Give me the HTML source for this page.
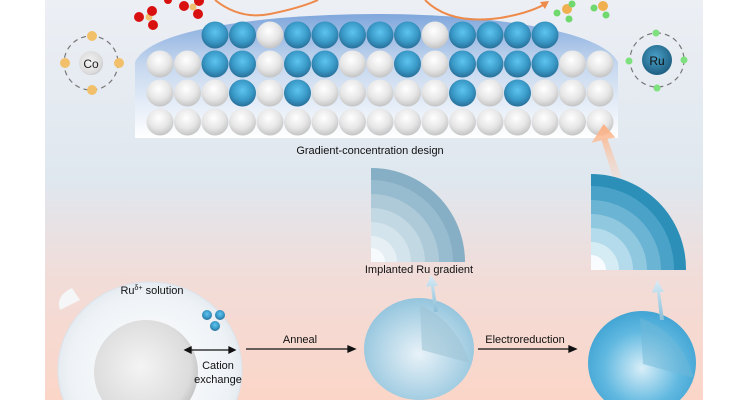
<!DOCTYPE html>
<html><head><meta charset="utf-8"><style>
html,body{margin:0;padding:0;background:#fff;width:750px;height:400px;overflow:hidden;}
svg{display:block;font-family:"Liberation Sans",sans-serif;}
</style></head><body>
<svg width="750" height="400" viewBox="0 0 750 400" xmlns="http://www.w3.org/2000/svg">
<defs>
<clipPath id="clip"><rect x="0" y="0" width="750" height="400"/></clipPath>
<linearGradient id="bg" x1="0" y1="0" x2="0" y2="1">
<stop offset="0" stop-color="#eceff4"/><stop offset="0.45" stop-color="#dfe7ef"/><stop offset="0.7" stop-color="#f2dcd8"/><stop offset="1" stop-color="#fbd6c8"/></linearGradient>
<linearGradient id="slab" x1="0" y1="0" x2="0" y2="1">
<stop offset="0" stop-color="#7fa7dc"/><stop offset="0.4" stop-color="#c4d6ee"/><stop offset="1" stop-color="#ffffff"/></linearGradient>
<radialGradient id="wa" cx="0.45" cy="0.35" r="0.65"><stop offset="0" stop-color="#ffffff"/><stop offset="0.6" stop-color="#e6e6e6"/><stop offset="1" stop-color="#c4c4c4"/></radialGradient>
<radialGradient id="ba" cx="0.5" cy="0.4" r="0.6"><stop offset="0" stop-color="#5ec4f0"/><stop offset="0.6" stop-color="#3a9ac8"/><stop offset="1" stop-color="#286f98"/></radialGradient>
<radialGradient id="ru" cx="0.45" cy="0.4" r="0.6"><stop offset="0" stop-color="#4aa0c8"/><stop offset="1" stop-color="#1e5f82"/></radialGradient>
<radialGradient id="sm" cx="0.5" cy="0.55" r="0.6"><stop offset="0" stop-color="#e8f2f8"/><stop offset="0.7" stop-color="#a8d0e4"/><stop offset="1" stop-color="#8cc0da"/></radialGradient>
<radialGradient id="sr" cx="0.5" cy="0.55" r="0.6"><stop offset="0" stop-color="#d8eef8"/><stop offset="0.6" stop-color="#60b8e0"/><stop offset="1" stop-color="#3a9fd0"/></radialGradient>
<radialGradient id="hs" cx="0.5" cy="0.5" r="0.55"><stop offset="0" stop-color="#ffffff"/><stop offset="0.8" stop-color="#eef2f6"/><stop offset="1" stop-color="#dde5ec"/></radialGradient>
<radialGradient id="gs" cx="0.45" cy="0.45" r="0.6"><stop offset="0" stop-color="#f4f4f4"/><stop offset="0.8" stop-color="#dcdcdc"/><stop offset="1" stop-color="#bcbcbc"/></radialGradient>
<linearGradient id="oa" x1="0" y1="1" x2="0" y2="0"><stop offset="0" stop-color="#fdd5bd" stop-opacity="0.3"/><stop offset="1" stop-color="#fcae80"/></linearGradient>
<linearGradient id="sa" x1="0" y1="1" x2="0" y2="0"><stop offset="0" stop-color="#8cbfd8"/><stop offset="1" stop-color="#d8ecf6"/></linearGradient>
</defs>
<g clip-path="url(#clip)">
<rect x="45" y="0" width="658" height="400" fill="url(#bg)"/>
<path d="M135 62 Q150 30 280 18 Q380 10 470 18 Q600 30 618 62 L618 138 L135 138 Z" fill="url(#slab)"/>
<g>
<circle cx="215" cy="35" r="13.5" fill="url(#ba)"/><circle cx="242.5" cy="35" r="13.5" fill="url(#ba)"/><circle cx="270" cy="35" r="13.5" fill="url(#wa)"/><circle cx="297.5" cy="35" r="13.5" fill="url(#ba)"/><circle cx="325" cy="35" r="13.5" fill="url(#ba)"/><circle cx="352.5" cy="35" r="13.5" fill="url(#ba)"/><circle cx="380" cy="35" r="13.5" fill="url(#ba)"/><circle cx="407.5" cy="35" r="13.5" fill="url(#ba)"/><circle cx="435" cy="35" r="13.5" fill="url(#wa)"/><circle cx="462.5" cy="35" r="13.5" fill="url(#ba)"/><circle cx="490" cy="35" r="13.5" fill="url(#ba)"/><circle cx="517.5" cy="35" r="13.5" fill="url(#ba)"/><circle cx="545" cy="35" r="13.5" fill="url(#ba)"/>
<circle cx="160" cy="64" r="13.5" fill="url(#wa)"/><circle cx="187.5" cy="64" r="13.5" fill="url(#wa)"/><circle cx="215" cy="64" r="13.5" fill="url(#ba)"/><circle cx="242.5" cy="64" r="13.5" fill="url(#ba)"/><circle cx="270" cy="64" r="13.5" fill="url(#wa)"/><circle cx="297.5" cy="64" r="13.5" fill="url(#ba)"/><circle cx="325" cy="64" r="13.5" fill="url(#ba)"/><circle cx="352.5" cy="64" r="13.5" fill="url(#wa)"/><circle cx="380" cy="64" r="13.5" fill="url(#wa)"/><circle cx="407.5" cy="64" r="13.5" fill="url(#ba)"/><circle cx="435" cy="64" r="13.5" fill="url(#wa)"/><circle cx="462.5" cy="64" r="13.5" fill="url(#ba)"/><circle cx="490" cy="64" r="13.5" fill="url(#ba)"/><circle cx="517.5" cy="64" r="13.5" fill="url(#ba)"/><circle cx="545" cy="64" r="13.5" fill="url(#ba)"/><circle cx="572.5" cy="64" r="13.5" fill="url(#wa)"/><circle cx="600" cy="64" r="13.5" fill="url(#wa)"/>
<circle cx="160" cy="93" r="13.5" fill="url(#wa)"/><circle cx="187.5" cy="93" r="13.5" fill="url(#wa)"/><circle cx="215" cy="93" r="13.5" fill="url(#wa)"/><circle cx="242.5" cy="93" r="13.5" fill="url(#ba)"/><circle cx="270" cy="93" r="13.5" fill="url(#wa)"/><circle cx="297.5" cy="93" r="13.5" fill="url(#ba)"/><circle cx="325" cy="93" r="13.5" fill="url(#wa)"/><circle cx="352.5" cy="93" r="13.5" fill="url(#wa)"/><circle cx="380" cy="93" r="13.5" fill="url(#wa)"/><circle cx="407.5" cy="93" r="13.5" fill="url(#wa)"/><circle cx="435" cy="93" r="13.5" fill="url(#wa)"/><circle cx="462.5" cy="93" r="13.5" fill="url(#ba)"/><circle cx="490" cy="93" r="13.5" fill="url(#wa)"/><circle cx="517.5" cy="93" r="13.5" fill="url(#ba)"/><circle cx="545" cy="93" r="13.5" fill="url(#wa)"/><circle cx="572.5" cy="93" r="13.5" fill="url(#wa)"/><circle cx="600" cy="93" r="13.5" fill="url(#wa)"/>
</g>
<g fill="url(#wa)">
<circle cx="160" cy="122" r="13.5"/><circle cx="187.5" cy="122" r="13.5"/><circle cx="215" cy="122" r="13.5"/><circle cx="242.5" cy="122" r="13.5"/><circle cx="270" cy="122" r="13.5"/><circle cx="297.5" cy="122" r="13.5"/><circle cx="325" cy="122" r="13.5"/><circle cx="352.5" cy="122" r="13.5"/><circle cx="380" cy="122" r="13.5"/><circle cx="407.5" cy="122" r="13.5"/><circle cx="435" cy="122" r="13.5"/><circle cx="462.5" cy="122" r="13.5"/><circle cx="490" cy="122" r="13.5"/><circle cx="517.5" cy="122" r="13.5"/><circle cx="545" cy="122" r="13.5"/><circle cx="572.5" cy="122" r="13.5"/><circle cx="600" cy="122" r="13.5"/>
</g>
<path d="M215 0 Q240 20 270 14 Q300 8 318 0" fill="none" stroke="#ee8a4a" stroke-width="2"/>
<path d="M425 0 Q450 25 500 18 Q530 13 547 3" fill="none" stroke="#ee8a4a" stroke-width="2"/>
<path d="M549 1 L540 2 L545 9 Z" fill="#ee8a4a"/>
<g>
<circle cx="149" cy="17" r="3.5" fill="#f0c070"/><circle cx="139" cy="17" r="5" fill="#d81010"/><circle cx="152" cy="11" r="5" fill="#d81010"/><circle cx="153" cy="25" r="5" fill="#d81010"/>
<circle cx="193" cy="7" r="3.5" fill="#f0c070"/><circle cx="184" cy="6" r="5" fill="#d81010"/><circle cx="198" cy="14" r="5" fill="#d81010"/><circle cx="199" cy="1" r="5" fill="#d81010"/><circle cx="168" cy="0" r="4" fill="#d81010"/>
<circle cx="567" cy="9" r="5" fill="#f0b050"/><circle cx="557" cy="13" r="3.5" fill="#6fd86f"/><circle cx="569" cy="19" r="3.5" fill="#6fd86f"/><circle cx="572" cy="4" r="3.5" fill="#6fd86f"/>
<circle cx="603" cy="6" r="5" fill="#f0b050"/><circle cx="594" cy="8" r="3.5" fill="#6fd86f"/><circle cx="606" cy="15" r="3.5" fill="#6fd86f"/>
</g>
<circle cx="91" cy="63" r="27" fill="none" stroke="#777" stroke-width="1.2" stroke-dasharray="5 4"/>
<circle cx="91" cy="63" r="12" fill="url(#gs)"/>
<text x="91" y="68" font-size="12" text-anchor="middle" fill="#222">Co</text>
<circle cx="92" cy="36" r="5" fill="#f2c06a"/><circle cx="92" cy="90" r="5" fill="#f2c06a"/><circle cx="65" cy="63" r="5" fill="#f2c06a"/><circle cx="119" cy="63" r="5" fill="#f2c06a"/>
<circle cx="657" cy="60" r="27" fill="none" stroke="#777" stroke-width="1.2" stroke-dasharray="5 4"/>
<circle cx="657" cy="60" r="15" fill="url(#ru)"/>
<text x="657" y="65" font-size="12" text-anchor="middle" fill="#111">Ru</text>
<circle cx="656" cy="33" r="3.5" fill="#7ee07e"/><circle cx="657" cy="88" r="3.5" fill="#7ee07e"/><circle cx="629" cy="61" r="3.5" fill="#7ee07e"/><circle cx="684" cy="60" r="3.5" fill="#7ee07e"/>
<text x="370" y="154" font-size="11" text-anchor="middle" fill="#111">Gradient-concentration design</text>
<path d="M612 180 L602 140 L592 142 L605 124 L616 138 L608 139 L620 178 Z" fill="url(#oa)" transform="rotate(-3 606 150)"/>
<g>
<path d="M371 262 L371 168 A94 94 0 0 1 465 262 Z" fill="#86aec4"/>
<path d="M371 262 L371 180 A82 82 0 0 1 453 262 Z" fill="#98bccf"/>
<path d="M371 262 L371 194 A68 68 0 0 1 439 262 Z" fill="#aecad9"/>
<path d="M371 262 L371 208 A54 54 0 0 1 425 262 Z" fill="#c2d8e3"/>
<path d="M371 262 L371 222 A40 40 0 0 1 411 262 Z" fill="#d4e4ec"/>
<path d="M371 262 L371 236 A26 26 0 0 1 397 262 Z" fill="#e6eff4"/>
<path d="M371 262 L371 248 A14 14 0 0 1 385 262 Z" fill="#f6fafc"/>
</g>
<text x="419" y="273" font-size="11" text-anchor="middle" fill="#111">Implanted Ru gradient</text>
<g>
<path d="M591 270 L591 174 A95 95 0 0 1 686 270 Z" fill="#2b8fb8"/>
<path d="M591 270 L591 186 A83 83 0 0 1 674 270 Z" fill="#4aa2c8"/>
<path d="M591 270 L591 200 A70 70 0 0 1 661 270 Z" fill="#6cb4d4"/>
<path d="M591 270 L591 214 A56 56 0 0 1 647 270 Z" fill="#90c8e0"/>
<path d="M591 270 L591 228 A42 42 0 0 1 633 270 Z" fill="#b4dbec"/>
<path d="M591 270 L591 242 A28 28 0 0 1 619 270 Z" fill="#d6ecf4"/>
<path d="M591 270 L591 255 A15 15 0 0 1 606 270 Z" fill="#f8fcfe"/>
</g>
<ellipse cx="150" cy="370" rx="92" ry="88" fill="url(#hs)" stroke="#dbe3ea"/>
<path d="M60 310 Q55 296 72 288 L80 300 Z" fill="#f4f6f8"/>
<circle cx="146" cy="372" r="52" fill="url(#gs)"/>
<circle cx="207" cy="315" r="5" fill="url(#ba)"/><circle cx="220" cy="315" r="5" fill="url(#ba)"/><circle cx="215" cy="326" r="5" fill="url(#ba)"/>
<text x="152" y="294" font-size="11" text-anchor="middle" fill="#111">Ru<tspan font-size="7" dy="-4">δ+</tspan><tspan dy="4"> solution</tspan></text>
<text x="218" y="369" font-size="11" text-anchor="middle" fill="#111">Cation</text>
<text x="218" y="383" font-size="11" text-anchor="middle" fill="#111">exchange</text>
<g stroke="#111" stroke-width="1.3" fill="#111">
<line x1="188" y1="350" x2="232" y2="350"/>
<path d="M185 350 L191 347 L191 353 Z"/><path d="M235 350 L229 347 L229 353 Z"/>
<line x1="246" y1="349" x2="350" y2="349"/><path d="M355 349 L348 346 L348 352 Z"/>
<line x1="478" y1="349" x2="571" y2="349"/><path d="M576 349 L569 346 L569 352 Z"/>
</g>
<text x="300" y="343" font-size="11" text-anchor="middle" fill="#111">Anneal</text>
<text x="525" y="343" font-size="11" text-anchor="middle" fill="#111">Electroreduction</text>
<ellipse cx="419" cy="349" rx="55" ry="51" fill="url(#sm)"/>
<path d="M420 305 L422 350 L470 363 Q455 320 420 305 Z" fill="#9fc4d6" opacity="0.6"/>
<ellipse cx="642" cy="363" rx="54" ry="52" fill="url(#sr)"/>
<path d="M640 318 L643 364 L694 378 Q680 332 640 318 Z" fill="#70b8d8" opacity="0.5"/>
<path d="M434 312 L431 286 L426 287 L431 275 L438 286 L434 286 L438 312 Z" fill="url(#sa)"/>
<path d="M660 320 L657 292 L652 293 L657 280 L664 292 L660 292 L664 320 Z" fill="url(#sa)"/>
</g>
</svg>
</body></html>
